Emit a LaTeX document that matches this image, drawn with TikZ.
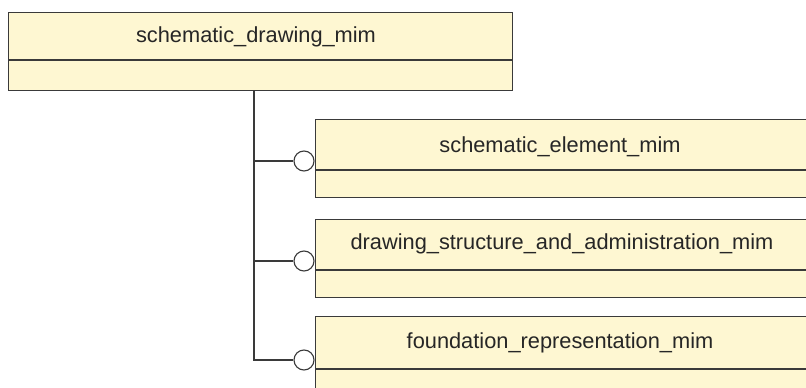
\documentclass[tikz,border=0pt]{standalone}
\usepackage{fontspec}
\setmainfont{Liberation Sans}
\definecolor{boxfill}{HTML}{FEF7D2}
\definecolor{linec}{HTML}{3A3A3A}
\begin{document}
\begin{tikzpicture}[x=1pt,y=-1pt,
  cls/.style={draw=linec, fill=boxfill, line width=1.1pt, inner sep=0pt, anchor=north west, minimum height=78pt},
  lbl/.style={font=\fontsize{21.8}{25}\selectfont, text=black!85, inner sep=0pt},
  conn/.style={draw=linec, line width=1.1pt},
  lolly/.style={circle, draw=linec, fill=white, line width=1.1pt, minimum size=20pt, inner sep=0pt}]
\useasboundingbox (0,0) rectangle (806,388);
% parent
\node[cls, minimum width=504pt] (top) at (8,12) {};
\draw[conn] (8,60) -- (512,60);
\node[lbl] (ttop) at (256,37) {schematic\_drawing\_mim};
% children
\node[cls, minimum width=500pt] (b1) at (315,119) {};
\draw[conn] (315,170) -- (815,170);
\node[lbl] (t1) at (560,147) {schematic\_element\_mim};
\node[cls, minimum width=500pt] (b2) at (315,219) {};
\draw[conn] (315,270) -- (815,270);
\node[lbl] (t2) at (562,244) {drawing\_structure\_and\_administration\_mim};
\node[cls, minimum width=500pt] (b3) at (315,316) {};
\draw[conn] (315,369) -- (815,369);
\node[lbl] (t3) at (560,343) {foundation\_representation\_mim};
% lollipops
\node[lolly] (c1) at (304,161) {};
\node[lolly] (c2) at (304,261) {};
\node[lolly] (c3) at (304,360) {};
\coordinate (j) at (254,90);
\draw[conn] (j) |- (c3.west);
\draw[conn] (j |- c1.west) -- (c1.west);
\draw[conn] (j |- c2.west) -- (c2.west);
\end{tikzpicture}
\end{document}
